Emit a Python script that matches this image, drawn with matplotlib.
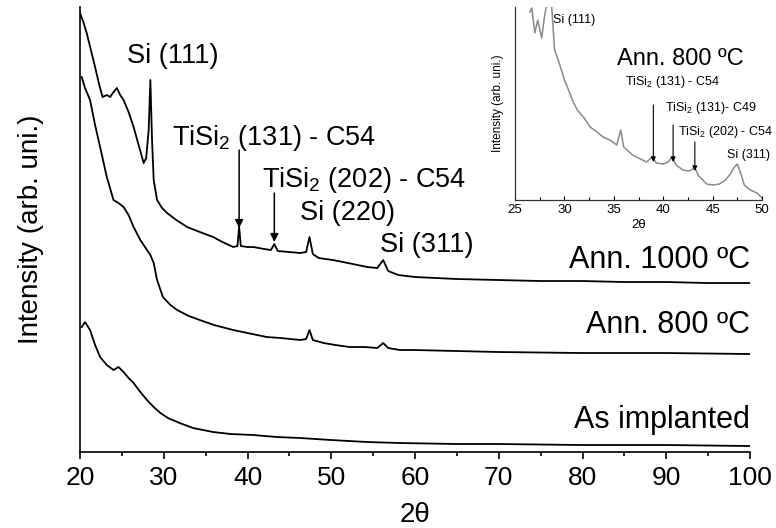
import matplotlib
matplotlib.use('Agg')
import matplotlib.pyplot as plt
import numpy as np

plt.rcParams['font.family'] = ['Liberation Sans', 'DejaVu Sans']
plt.rcParams['mathtext.default'] = 'regular'

# 2theta (deg) and intensity (arb. units)
x_1000 = [20.0, 20.4, 20.8, 21.3, 21.8, 22.3, 22.7, 23.2, 23.6, 24.0, 24.4, 24.8,
          25.2, 25.8, 26.4, 27.0, 27.6, 27.9, 28.2, 28.4, 28.6, 28.8, 29.2, 29.8,
          30.4, 31.5, 32.8, 34.0, 35.9, 37.0, 38.3, 38.8, 39.0, 39.2, 40.0, 40.7,
          42.0, 42.8, 43.2, 43.6, 45.0, 46.3, 47.0, 47.4, 47.8, 48.5, 50.2, 52.0,
          54.3, 55.5, 56.2, 56.8, 58.0, 60.0, 65.0, 70.0, 75.0, 80.0, 85.0, 90.0,
          95.0, 100.0]
y_1000 = [439, 430, 419, 402, 385, 367, 355, 357, 355, 360, 364, 357,
          352, 340, 325, 307, 289, 294, 322, 372, 312, 272, 252, 244,
          239, 232, 225, 221, 215, 210, 205, 206, 225, 206, 205, 205,
          203, 202, 208, 201, 200, 199, 200, 215, 198, 194, 192, 189,
          185, 184, 192, 181, 177, 175, 173, 172, 171, 171, 170, 170,
          169, 169]

x_800 = [20.2, 20.6, 21.2, 21.8, 22.4, 23.2, 24.0, 24.6, 25.2, 25.8, 26.4, 27.2,
         28.0, 28.4, 28.8, 29.2, 29.9, 30.8, 31.6, 33.0, 34.3, 36.0, 38.3, 40.0,
         42.3, 44.0, 46.3, 47.0, 47.4, 47.8, 49.1, 50.5, 52.2, 54.0, 55.5, 56.2,
         56.8, 58.2, 60.0, 70.0, 80.0, 90.0, 100.0]
y_800 = [375, 364, 352, 327, 305, 275, 252, 249, 245, 237, 225, 212,
         202, 197, 189, 172, 155, 147, 142, 136, 132, 127, 122, 119,
         115, 114, 112, 113, 122, 112, 109, 107, 105, 105, 104, 109,
         104, 102, 102, 100, 99, 99, 98]

x_imp = [20.2, 20.6, 21.2, 21.8, 22.4, 23.2, 24.0, 24.6, 25.2, 25.8, 26.4, 27.2,
         28.0, 28.8, 29.6, 30.5, 31.9, 33.5, 35.9, 38.0, 40.7, 43.5, 46.3, 50.0,
         54.3, 58.2, 65.0, 70.0, 80.0, 90.0, 100.0]
y_imp = [125, 130, 122, 107, 95, 87, 82, 85, 80, 74, 69, 60,
         52, 45, 39, 34, 29, 24, 20, 18, 17, 15, 14, 12,
         10, 9, 8, 8, 7, 7, 6]

# inset: Ann. 800 C, 25-50 deg
x_ins = [26.5, 26.7, 27.0, 27.3, 27.7, 28.0, 28.2, 28.7, 29.0, 29.3, 29.6, 30.0,
         30.3, 30.8, 31.3, 32.0, 32.6, 33.3, 33.9, 34.6, 35.3, 35.7, 36.0, 36.9,
         37.5, 38.3, 38.9, 39.3, 40.0, 40.5, 40.9, 41.3, 42.0, 42.6, 43.2, 43.6,
         44.4, 45.0, 45.7, 46.3, 46.8, 47.2, 47.5, 47.8, 48.2, 48.8, 49.5, 50.0]
y_ins = [188, 192, 167, 180, 162, 185, 195, 195, 150, 142, 133, 120,
         113, 100, 90, 82, 73, 68, 63, 60, 55, 70, 53, 45,
         42, 38, 43, 37, 36, 38, 43, 35, 30, 29, 32, 24,
         16, 15, 16, 20, 26, 33, 36, 28, 15, 10, 7, 2]

fig = plt.figure(figsize=(7.76, 5.28), dpi=100)
ax = fig.add_axes([0.1031, 0.1439, 0.8634, 0.8428])

ax.plot(x_1000, y_1000, color='black', lw=1.3)
ax.plot(x_800, y_800, color='black', lw=1.3)
ax.plot(x_imp, y_imp, color='black', lw=1.3)

ax.set_xlim(20, 100)
ax.set_ylim(0, 445)
ax.set_xticks(np.arange(20, 101, 10))
ax.set_xticks(np.arange(25, 100, 10), minor=True)
ax.set_yticks([])
ax.tick_params(axis='x', which='major', direction='out', length=5, width=1.2, labelsize=19, pad=5)
ax.tick_params(axis='x', which='minor', direction='out', length=3, width=1.2)
for s in ['top', 'right']:
    ax.spines[s].set_visible(False)
for s in ['left', 'bottom']:
    ax.spines[s].set_linewidth(1.2)
ax.set_xlabel('2θ', fontsize=20, labelpad=9)
ax.set_ylabel('Intensity (arb. uni.)', fontsize=20, labelpad=26)

# peak labels
ax.text(31.1, 396, 'Si (111)', fontsize=19.5, ha='center', va='center')
ax.text(31.0, 314, 'TiSi$_2$ (131) - C54', fontsize=19.5, ha='left', va='center')
ax.text(41.7, 272, 'TiSi$_2$ (202) - C54', fontsize=19.5, ha='left', va='center')
ax.text(46.3, 239, 'Si (220)', fontsize=19.5, ha='left', va='center')
ax.text(55.8, 207, 'Si (311)', fontsize=19.5, ha='left', va='center')
ax.annotate('', xy=(39.0, 224), xytext=(39.0, 302),
            arrowprops=dict(arrowstyle='-|>', color='black', lw=1.1, mutation_scale=12,
                            shrinkA=0, shrinkB=0))
ax.annotate('', xy=(43.2, 210), xytext=(43.2, 259),
            arrowprops=dict(arrowstyle='-|>', color='black', lw=1.1, mutation_scale=12,
                            shrinkA=0, shrinkB=0))

ax.text(100, 192, 'Ann. 1000 ºC', fontsize=22, ha='right', va='center')
ax.text(100, 127, 'Ann. 800 ºC', fontsize=22, ha='right', va='center')
ax.text(100, 32, 'As implanted', fontsize=22, ha='right', va='center')

# inset
axi = fig.add_axes([0.6637, 0.6212, 0.3183, 0.3655])
axi.patch.set_alpha(0)
axi.plot(x_ins, y_ins, color='#8a8a8a', lw=1.1)
axi.set_xlim(25, 50)
axi.set_ylim(0, 193)
axi.set_xticks(np.arange(25, 51, 5))
axi.set_xticks(np.arange(27.5, 50, 5), minor=True)
axi.set_yticks([])
axi.tick_params(axis='x', which='major', direction='in', length=3, width=0.8, labelsize=9.5, pad=3)
axi.tick_params(axis='x', which='minor', direction='in', length=2, width=0.8)
for s in ['top', 'right']:
    axi.spines[s].set_visible(False)
for s in ['left', 'bottom']:
    axi.spines[s].set_linewidth(0.9)
    axi.spines[s].set_color('#333333')
axi.set_xlabel('2θ', fontsize=9.5, labelpad=2)
axi.set_ylabel('Intensity (arb. uni.)', fontsize=8.5, labelpad=8)

axi.text(28.85, 180, 'Si (111)', fontsize=9, ha='left', va='center')
axi.text(35.3, 141, 'Ann. 800 ºC', fontsize=17, ha='left', va='center')
axi.text(36.1, 118, 'TiSi$_2$ (131) - C54', fontsize=9, ha='left', va='center')
axi.text(40.2, 92, 'TiSi$_2$ (131)- C49', fontsize=9, ha='left', va='center')
axi.text(41.5, 68, 'TiSi$_2$ (202) - C54', fontsize=9, ha='left', va='center')
axi.text(46.5, 45, 'Si (311)', fontsize=9, ha='left', va='center')
for xa, y0, y1 in [(39.0, 95, 38), (41.0, 75, 38), (43.2, 58, 29)]:
    axi.annotate('', xy=(xa, y1), xytext=(xa, y0),
                 arrowprops=dict(arrowstyle='-|>', color='black', lw=0.8, mutation_scale=7,
                                 shrinkA=0, shrinkB=0))

plt.savefig('out.png', dpi=100)
plt.close()
